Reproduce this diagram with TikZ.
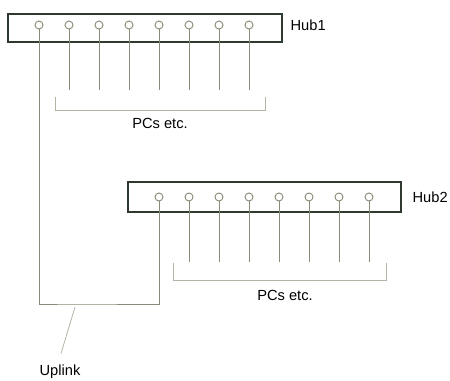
\documentclass[tikz,border=0pt]{standalone}
\usepackage{fontspec}
\setmainfont{Liberation Sans}
\usetikzlibrary{positioning,calc}
\definecolor{hubcol}{HTML}{2E3A30}
\definecolor{linecol}{HTML}{8A8A78}
\definecolor{bracecol}{HTML}{B4B4A4}
\tikzset{
    hub/.style={draw=hubcol,line width=1.3pt,rectangle,inner sep=0pt},
    port/.style={draw=linecol,fill=white,circle,inner sep=0pt,minimum size=6pt,line width=0.7pt},
    wire/.style={-,draw=linecol,line width=0.75pt},
    brace/.style={-,draw=bracecol,line width=0.6pt},
    lbl/.style={font=\fontsize{11}{13}\selectfont,inner sep=1pt},
}
\begin{document}
\begin{tikzpicture}[x=0.75pt,y=-0.75pt]
\useasboundingbox (0,0) rectangle (450,381);
% --- Hub1 ---
                \node[hub,minimum width=205.5pt,minimum height=21pt] (hub1) at (145,28) {};
                \node[lbl,anchor=west] (hub1lbl) at (289,25) {Hub1};
                \foreach \i in {1,...,8}
                    \node[port] (p1\i) at ({39+30*(\i-1)},25) {};
% cables to PCs
                \foreach \i in {2,...,8}
                    \draw[wire] (p1\i.south) -- ($(p1\i)+(0,65)$);
                \draw[brace] (55,97) -- (55,110) -- (265,110) -- (265,97);
                \node[lbl] (pcs1) at (160,123) {PCs etc.};
% --- Hub2 ---
                \node[hub,minimum width=204.75pt,minimum height=22.5pt] (hub2) at (264.5,197) {};
                \node[lbl,anchor=west] (hub2lbl) at (411,197) {Hub2};
                \foreach \i in {1,...,8}
                    \node[port] (p2\i) at ({159+30*(\i-1)},197) {};
                \foreach \i in {2,...,8}
                    \draw[wire] (p2\i.south) -- ($(p2\i)+(0,65)$);
                \draw[brace] (173,263) -- (173,280) -- (386,280) -- (386,263);
                \node[lbl] (pcs2) at (285,295) {PCs etc.};
% --- Uplink ---
                \coordinate (upl) at (75,304);
                \draw[wire] (p11.south) |- (upl) -| (p21.south);
                \node[lbl] (uplink) at (60,372) {Uplink};
                \draw[brace] (upl) ++(0,3) -- ($(uplink.north)+(1,-10)$);
\end{tikzpicture}
\end{document}
